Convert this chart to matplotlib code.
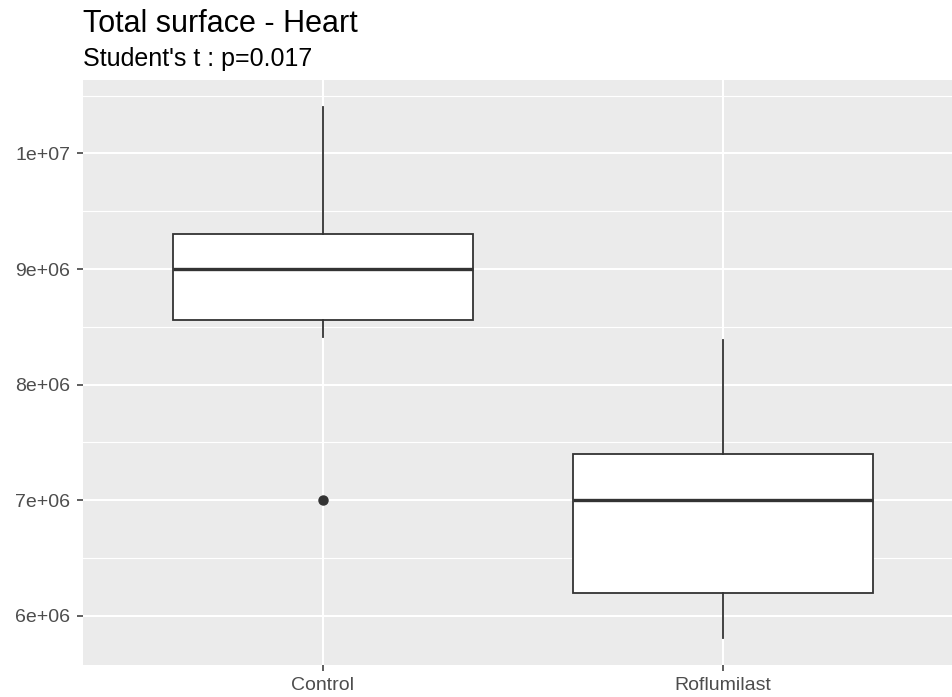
import matplotlib
matplotlib.use("Agg")
import matplotlib.pyplot as plt
from matplotlib.ticker import FuncFormatter, MultipleLocator

plt.rcParams["font.family"] = ["Liberation Sans", "DejaVu Sans"]

TITLE = "Total surface - Heart"
SUBTITLE = "Student's t : p=0.017"

groups = ["Control", "Roflumilast"]
medians = [9.0e6, 7.0e6]
q1 = [8.56e6, 6.2e6]
q3 = [9.3e6, 7.4e6]
whisker_low = [8.41e6, 5.805e6]
whisker_high = [1.0405e7, 8.39e6]
outliers = [[7.0e6], []]

W, H = 952, 697
fig = plt.figure(figsize=(W / 100, H / 100), dpi=100)

# panel in pixel coords (extends a bit past the right edge, like the original)
left, right, top, bottom = 83, 963, 80, 665
ax = fig.add_axes([left / W, 1 - bottom / H, (right - left) / W, (bottom - top) / H])
ax.set_facecolor("#EBEBEB")

stats = []
for i, g in enumerate(groups):
    stats.append(dict(label=g, med=medians[i], q1=q1[i], q3=q3[i],
                      whislo=whisker_low[i], whishi=whisker_high[i],
                      fliers=outliers[i]))

edge = "#333333"
ax.bxp(stats, positions=[1, 2], widths=0.75, patch_artist=True, showcaps=False,
       boxprops=dict(facecolor="white", edgecolor=edge, linewidth=1.3),
       medianprops=dict(color=edge, linewidth=2.4),
       whiskerprops=dict(color=edge, linewidth=1.3),
       flierprops=dict(marker="o", markerfacecolor=edge, markeredgecolor=edge,
                       markersize=6.5),
       zorder=3)

# ggplot-style expansion: 5% continuous, 0.6 discrete
lo = min(whisker_low + [v for o in outliers for v in o])
hi = max(whisker_high + [v for o in outliers for v in o])
pad = 0.05 * (hi - lo)
ax.set_ylim(lo - pad, hi + pad)
ax.set_xlim(0.4, len(groups) + 0.6)

ax.yaxis.set_major_locator(MultipleLocator(1e6))
ax.yaxis.set_minor_locator(MultipleLocator(5e5))


def sci(v, _):
    m, e = f"{v:.0e}".split("e")
    return f"{m}e{e[0]}{int(e[1:]):02d}"


ax.yaxis.set_major_formatter(FuncFormatter(sci))
ax.set_xticks([1, 2])
ax.set_xticklabels(groups)

ax.grid(which="major", color="white", linewidth=1.5, zorder=0)
ax.grid(which="minor", axis="y", color="white", linewidth=0.8, zorder=0)
ax.set_axisbelow(True)
for s in ax.spines.values():
    s.set_visible(False)

ax.tick_params(which="major", length=4, width=1.1, color="#333333",
               labelsize=14, labelcolor="#4D4D4D", pad=5)
ax.tick_params(which="minor", length=0)

fig.text(left / W, 1 - 32 / H, TITLE, fontsize=22, color="black",
         ha="left", va="baseline")
fig.text(left / W, 1 - 66 / H, SUBTITLE, fontsize=18, color="black",
         ha="left", va="baseline")

fig.savefig("out.png", dpi=100)
